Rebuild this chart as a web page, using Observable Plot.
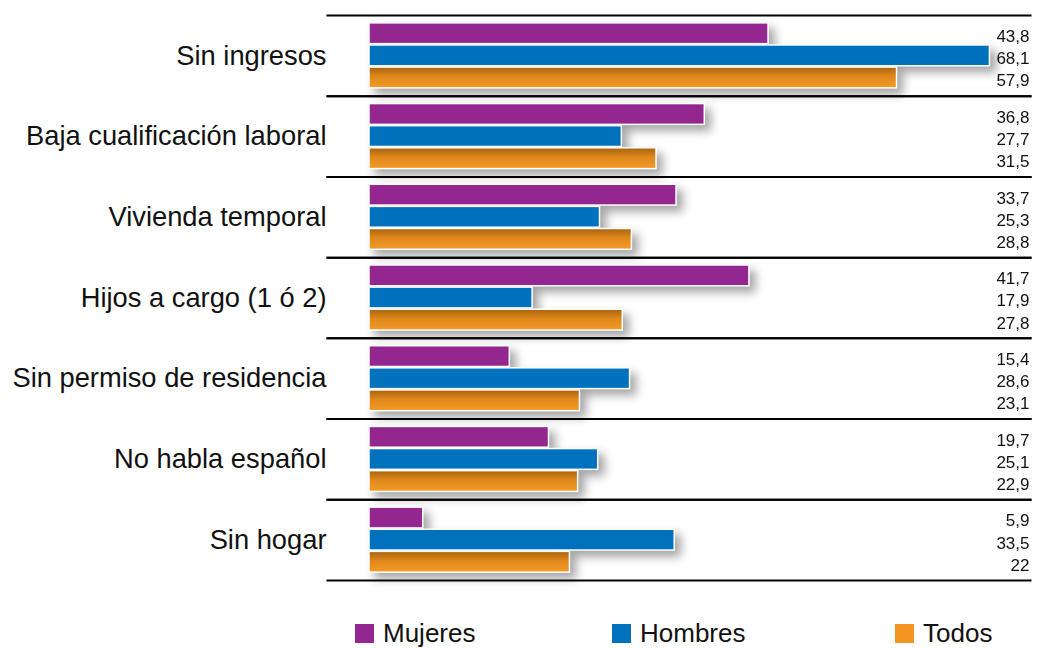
<!DOCTYPE html>
<html><head><meta charset="utf-8">
<script src="https://cdn.jsdelivr.net/npm/d3@7"></script>
<script src="https://cdn.jsdelivr.net/npm/@observablehq/plot@0.6"></script>
<style>
body{margin:0;background:#fff;font-family:"Liberation Sans",Arial,sans-serif}
#legend{position:relative;height:48px}
.item{position:absolute;top:20px;display:flex;align-items:center;font-size:26px;color:#111;line-height:1}
.sw{width:19px;height:19px;margin-right:9px}
</style></head><body>
<div id="chart"></div>
<div id="legend"></div>
<script>
const categories = ["Sin ingresos","Baja cualificación laboral","Vivienda temporal","Hijos a cargo (1 ó 2)","Sin permiso de residencia","No habla español","Sin hogar"];
const series = ["Mujeres","Hombres","Todos"];
const mujeres = [43.8,36.8,33.7,41.7,15.4,19.7,5.9];
const hombres = [68.1,27.7,25.3,17.9,28.6,25.1,33.5];
const todos = [57.9,31.5,28.8,27.8,23.1,22.9,22];
const colors = ["#93278f","#0071bc","#f39420"];
const legendLeft = [355,612,895];

const values = [mujeres, hombres, todos];
const rows = categories.flatMap((c,i)=> series.map((s,j)=>({category:c, series:s, value:values[j][i]})));
const fmt = v => String(v).replace(".", ",");

const plot = Plot.plot({
  width:1045, height:600,
  marginLeft:369, marginRight:15, marginTop:15, marginBottom:20,
  style:{fontFamily:"Liberation Sans, Arial, sans-serif", background:"white", color:"#111"},
  x:{domain:[0,72.55], axis:null},
  y:{domain:series, axis:null, paddingInner:0.06, paddingOuter:0.355, round:false},
  fy:{domain:categories, axis:null, padding:0, round:false},
  color:{domain:series, range:[colors[0], colors[1], "url(#orangeGrad)"]},
  marks:[
    Plot.barX(rows, {fy:"category", y:"series", x:"value", fill:"series", stroke:"white", strokeWidth:1.5}),
    Plot.frame({anchor:"top", stroke:"#000", strokeWidth:2, insetLeft:-42}),
    Plot.frame({anchor:"bottom", stroke:"#000", strokeWidth:2, insetLeft:-42}),
    Plot.text(rows, {fy:"category", y:"series", text:d=>fmt(d.value), frameAnchor:"right", textAnchor:"end", dx:-1, dy:3, fontSize:17, fill:"#111"}),
    Plot.text(categories, {fy:d=>d, text:d=>d, frameAnchor:"left", textAnchor:"end", dx:-43, fontSize:27.3, fill:"#111"})
  ]
});
const svg = d3.select(plot);
const defs = svg.insert("defs", ":first-child");
const g = defs.append("linearGradient").attr("id","orangeGrad").attr("x1",0).attr("y1",0).attr("x2",0).attr("y2",1);
g.append("stop").attr("offset","0%").attr("stop-color","#a9620f");
g.append("stop").attr("offset","45%").attr("stop-color","#df881b");
g.append("stop").attr("offset","100%").attr("stop-color","#f49a26");
svg.selectAll('g[aria-label="bar"]').style("filter","drop-shadow(6px 6px 5px rgba(0,0,0,0.35))");
document.getElementById("chart").appendChild(plot);

const legend = d3.select("#legend");
series.forEach((s,i)=>{
  const it = legend.append("div").attr("class","item").style("left", legendLeft[i]+"px");
  it.append("div").attr("class","sw").style("background", colors[i]);
  it.append("span").text(s);
});
</script>
</body></html>
